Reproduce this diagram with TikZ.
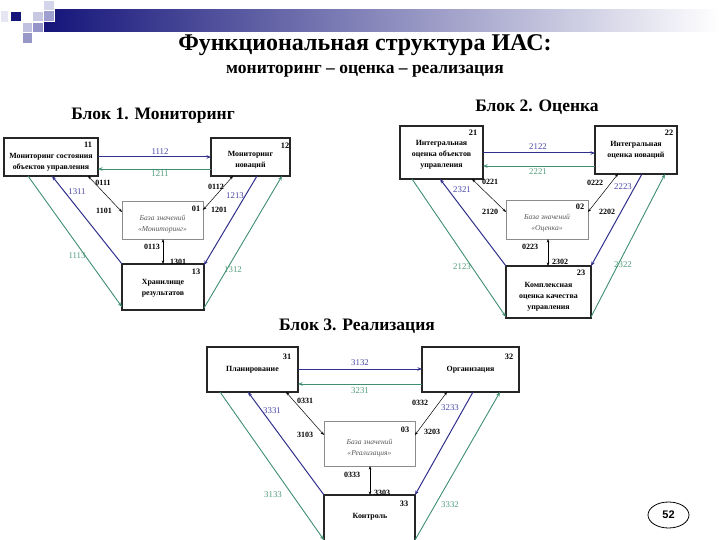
\documentclass[tikz,border=0pt]{standalone}
\usepackage{fontspec}
\setmainfont{Liberation Serif}
\newfontfamily\arialfont{Liberation Sans}
\usetikzlibrary{arrows.meta,calc,shapes.geometric}
\definecolor{navy}{HTML}{14147A}
\definecolor{blueline}{HTML}{30308C}
\definecolor{greenline}{HTML}{3F8F6F}
\definecolor{bluelab}{HTML}{4545A5}
\definecolor{greenlab}{HTML}{4F9A7A}
\begin{document}
\begin{tikzpicture}[x=1pt,y=-1pt,
  mainbox/.style={draw=black!85, line width=1.3pt, inner sep=0pt, outer sep=0pt, anchor=north west},
  basebox/.style={draw=black!45, line width=0.6pt, inner sep=0pt, outer sep=0pt, anchor=north west},
  boxtext/.style={font=\bfseries\fontsize{7.9}{10.8}\selectfont, align=center, inner sep=0pt},
  basetext/.style={font=\itshape\fontsize{7.6}{10.5}\selectfont, text=black!65, align=center, inner sep=0pt},
  numtext/.style={font=\bfseries\fontsize{8.3}{9}\selectfont, inner sep=0pt},
  blk/.style={font=\bfseries\fontsize{8}{9}\selectfont, inner sep=0pt},
  bl/.style={font=\fontsize{8.8}{9}\selectfont, text=bluelab, inner sep=0pt},
  gl/.style={font=\fontsize{8.8}{9}\selectfont, text=greenlab, inner sep=0pt},
  bluearrow/.style={draw=blueline, line width=1pt, -{Stealth[length=4.5pt,width=3.5pt]}},
  greenarrow/.style={draw=greenline, line width=0.9pt, -{Stealth[length=4.5pt,width=3.5pt]}},
  dbl/.style={draw=black, line width=0.5pt, {Stealth[length=3.5pt,width=2.6pt]}-{Stealth[length=3.5pt,width=2.6pt]}},
  sq/.style={draw=white, line width=0.4pt},
  heading/.style={font=\bfseries\fontsize{17.5}{19}\selectfont, inner sep=0pt}
]
\useasboundingbox (0,0) rectangle (720,540);
\clip (0,0) rectangle (720,540);

% header bar and squares
\shade[left color=navy, right color=white] (43,10) rectangle (720,32);
\fill[sq, fill={rgb,255:red,230;green,230;blue,242}] (0,10) rectangle (8,22);
\fill[sq, fill=navy] (10,11) rectangle (21,21);
\fill[sq, fill={rgb,255:red,200;green,200;blue,226}] (32,11) rectangle (43,21);
\fill[sq, fill={rgb,255:red,212;green,212;blue,234}] (43,0) rectangle (54,10);
\fill[sq, fill={rgb,255:red,160;green,160;blue,208}] (43,10) rectangle (54,21);
\fill[sq, fill={rgb,255:red,192;green,192;blue,224}] (22,22) rectangle (32,32);
\fill[sq, fill={rgb,255:red,148;green,148;blue,200}] (32,22) rectangle (43,32);
\fill[sq, fill={rgb,255:red,152;green,152;blue,200}] (22,32) rectangle (32,43);

% titles
\node[font=\bfseries\fontsize{24}{26}\selectfont, inner sep=0pt] (title) at (365,45) {Функциональная структура ИАС:};
\node[font=\bfseries\fontsize{17.5}{19}\selectfont, inner sep=0pt] (subtitle) at (365,71) {мониторинг – оценка – реализация};
\node[heading] (h1) at (153,116) {Блок 1. Мониторинг};
\node[heading] (h2) at (537,107) {Блок 2. Оценка};
\node[heading] (h3) at (357,326) {Блок 3. Реализация};

% ================= Block 1 =================
\node[mainbox, minimum width=94pt, minimum height=38pt] (b11) at (4,138) {};
\node[mainbox, minimum width=79pt, minimum height=38pt] (b12) at (211,138) {};
\node[basebox, minimum width=81pt, minimum height=38pt] (b01) at (122,201) {};
\node[mainbox, minimum width=82pt, minimum height=46pt] (b13) at (122,264) {};
\node[boxtext] (t11) at ([yshift=-5pt]b11.center) {Мониторинг состояния\\объектов управления};
\node[boxtext] (t12) at ([yshift=-3pt]b12.center) {Мониторинг\\новаций};
\node[basetext] (t01) at ([yshift=-4pt]b01.center) {База значений\\«Мониторинг»};
\node[boxtext] (t13) at ([yshift=-1pt]b13.center) {Хранилище\\результатов};
\node[numtext] (n11) at (88,145) {11};
\node[numtext] (n12) at (285,146) {12};
\node[numtext] (n01) at (196,209) {01};
\node[numtext] (n13) at (196,272) {13};

\draw[bluearrow] ([yshift=-19pt]b11.north east) -- ([yshift=-19pt]b12.north west);
\draw[greenarrow] ([yshift=-31pt]b12.north west) -- ([yshift=-31pt]b11.north east);
\draw[dbl] ([xshift=84pt]b11.south west) -- ([yshift=-11pt]b01.north west);
\draw[dbl] ([xshift=22pt]b12.south west) -- ([yshift=-9pt]b01.north east);
\draw[dbl] ([xshift=41pt]b01.south west) -- ([xshift=41pt]b13.north west);
\draw[bluearrow] (b13.north west) -- ([xshift=48pt]b11.south west);
\draw[greenarrow] ([xshift=24pt]b11.south west) -- ([yshift=3pt]b13.south west);
\draw[bluearrow] ([xshift=46pt]b12.south west) -- ([yshift=-1pt]b13.north east);
\draw[greenarrow] ([yshift=2pt]b13.south east) -- ([xshift=71pt]b12.south west);

\node[bl] (l1112) at (160,152) {1112};
\node[gl] (l1211) at (160,174) {1211};
\node[blk] (l0111) at (103,183) {0111};
\node[blk] (l1101) at (104,211) {1101};
\node[blk] (l0112) at (216,187) {0112};
\node[blk] (l1201) at (219,210) {1201};
\node[blk] (l0113) at (152,247) {0113};
\node[blk] (l1301) at (178,262) {1301};
\node[bl] (l1311) at (77,192) {1311};
\node[gl] (l1113) at (77,256) {1113};
\node[bl] (l1213) at (235,196) {1213};
\node[gl] (l1312) at (233,270) {1312};

% ================= Block 2 =================
\node[mainbox, minimum width=83pt, minimum height=53pt] (b21) at (400,126) {};
\node[mainbox, minimum width=82pt, minimum height=48pt] (b22) at (595,126) {};
\node[basebox, minimum width=82pt, minimum height=39pt] (b02) at (506,200) {};
\node[mainbox, minimum width=85pt, minimum height=52pt] (b23) at (506,266) {};
\node[boxtext] (t21) at ([yshift=-2pt]b21.center) {Интегральная\\оценка объектов\\управления};
\node[boxtext] (t22) at (b22.center) {Интегральная\\оценка новаций};
\node[basetext] (t02) at ([yshift=-3.5pt]b02.center) {База значений\\«Оценка»};
\node[boxtext] (t23) at ([yshift=-5pt]b23.center) {Комплексная\\оценка качества\\управления};
\node[numtext] (n21) at (473,133) {21};
\node[numtext] (n22) at (669,133) {22};
\node[numtext] (n02) at (580,207) {02};
\node[numtext] (n23) at (581,273) {23};

\draw[bluearrow] ([yshift=-27pt]b21.north east) -- ([yshift=-27pt]b22.north west);
\draw[greenarrow] ([yshift=-40pt]b22.north west) -- ([yshift=-40pt]b21.north east);
\draw[dbl] ([xshift=72pt]b21.south west) -- ([yshift=-12pt]b02.north west);
\draw[dbl] ([xshift=23pt]b22.south west) -- ([yshift=-12pt]b02.north east);
\draw[dbl] ([xshift=42pt]b02.south west) -- ([xshift=42pt]b23.north west);
\draw[bluearrow] (b23.north west) -- ([xshift=40pt]b21.south west);
\draw[greenarrow] ([xshift=12pt]b21.south west) -- ([yshift=1pt]b23.south west);
\draw[bluearrow] ([xshift=47pt]b22.south west) -- (b23.north east);
\draw[greenarrow] ([yshift=1pt]b23.south east) -- ([xshift=70pt]b22.south west);

\node[bl] (l2122) at (538,147) {2122};
\node[gl] (l2221) at (538,172) {2221};
\node[blk] (l0221) at (490,182) {0221};
\node[blk] (l2120) at (490,212) {2120};
\node[blk] (l0222) at (595,183) {0222};
\node[blk] (l2202) at (607,212) {2202};
\node[blk] (l0223) at (530,247) {0223};
\node[blk] (l2302) at (560,262) {2302};
\node[bl] (l2321) at (462,190) {2321};
\node[gl] (l2123) at (462,267) {2123};
\node[bl] (l2223) at (623,187) {2223};
\node[gl] (l2322) at (623,265) {2322};

% ================= Block 3 =================
\node[mainbox, minimum width=91pt, minimum height=45pt] (b31) at (207,347) {};
\node[mainbox, minimum width=97pt, minimum height=45pt] (b32) at (422,347) {};
\node[basebox, minimum width=91pt, minimum height=45pt] (b03) at (324,421) {};
\node[mainbox, minimum width=91pt, minimum height=50pt] (b33) at (324,495) {};
\node[boxtext] (t31) at (b31.center) {Планирование};
\node[boxtext] (t32) at (b32.center) {Организация};
\node[basetext] (t03) at ([yshift=-4.5pt]b03.center) {База значений\\«Реализация»};
\node[boxtext] (t33) at (370,517) {Контроль};
\node[numtext] (n31) at (287,357) {31};
\node[numtext] (n32) at (509,357) {32};
\node[numtext] (n03) at (405,430) {03};
\node[numtext] (n33) at (404,504) {33};

\draw[bluearrow] ([yshift=-22pt]b31.north east) -- ([yshift=-22pt]b32.north west);
\draw[greenarrow] ([yshift=-37pt]b32.north west) -- ([yshift=-37pt]b31.north east);
\draw[dbl] ([xshift=79pt]b31.south west) -- ([yshift=-14pt]b03.north west);
\draw[dbl] ([xshift=25pt]b32.south west) -- ([yshift=-14pt]b03.north east);
\draw[dbl] ([xshift=46pt]b03.south west) -- ([xshift=46pt]b33.north west);
\draw[bluearrow] (b33.north west) -- ([xshift=41pt]b31.south west);
\draw[greenarrow] ([xshift=13pt]b31.south west) -- ([yshift=5pt]b33.south west);
\draw[bluearrow] ([xshift=51pt]b32.south west) -- (b33.north east);
\draw[greenarrow] ([yshift=5pt]b33.south east) -- ([xshift=78pt]b32.south west);

\node[bl] (l3132) at (360,363) {3132};
\node[gl] (l3231) at (360,391) {3231};
\node[blk] (l0331) at (305,401) {0331};
\node[blk] (l3103) at (305,435) {3103};
\node[blk] (l0332) at (420,403) {0332};
\node[blk] (l3203) at (432,432) {3203};
\node[blk] (l0333) at (352,475) {0333};
\node[blk] (l3303) at (382,493) {3303};
\node[bl] (l3331) at (272,411) {3331};
\node[gl] (l3133) at (273,495) {3133};
\node[bl] (l3233) at (450,408) {3233};
\node[gl] (l3332) at (450,505) {3332};

% page number
\node[draw, ellipse, line width=0.8pt, minimum width=41pt, minimum height=26pt, inner sep=0pt,
      font=\arialfont\bfseries\fontsize{11}{12}\selectfont] (pg) at (668.5,515) {52};
\end{tikzpicture}
\end{document}
